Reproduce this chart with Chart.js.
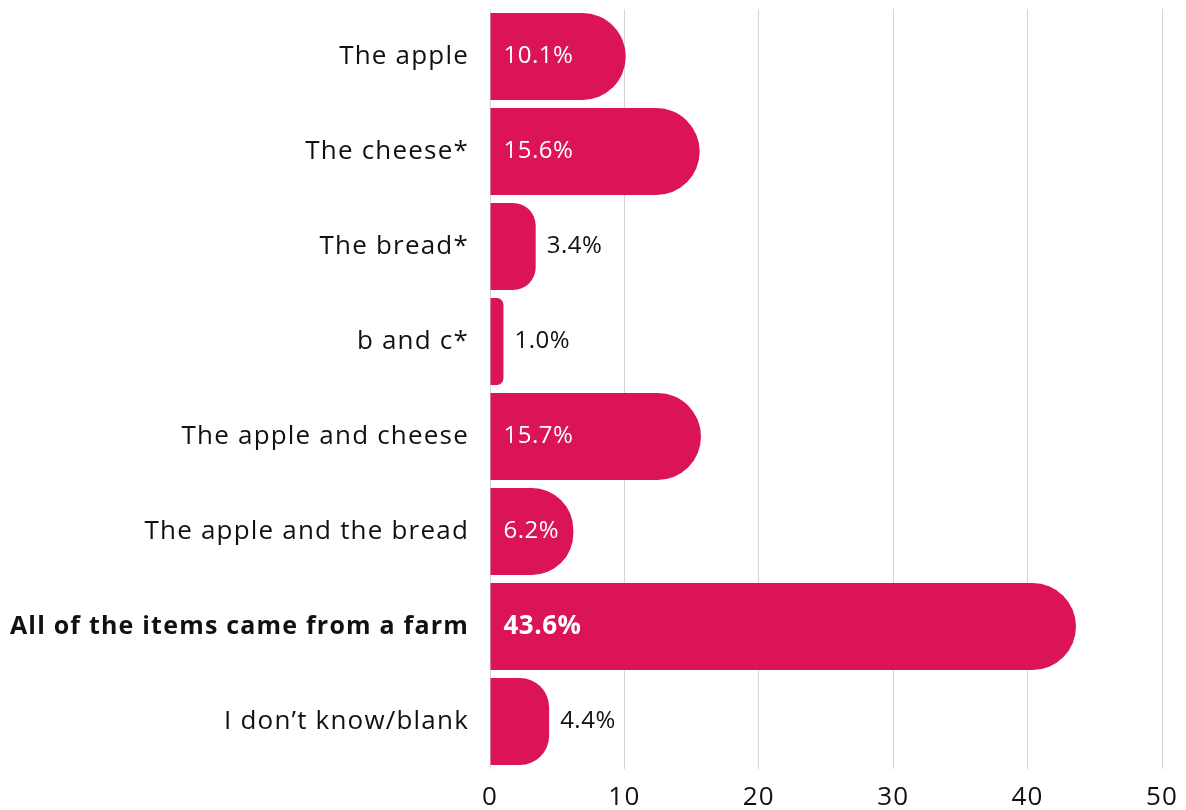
<!DOCTYPE html>
<html lang="en">
<head>
    <title>Which items came from a farm?</title>
    <script src="https://cdn.jsdelivr.net/npm/chart.js"></script>
    <style>
        html, body { margin: 0; padding: 0; background: #fff; overflow: hidden; }
        #chart-container { width: 1186px; height: 810px; }
    </style>
</head>
<body>
    <div id="chart-container">
        <canvas id="chart1"></canvas>
    </div>

    <script>
        // Veriler
        const categories = [
            'The apple',
            'The cheese*',
            'The bread*',
            'b and c*',
            'The apple and cheese',
            'The apple and the bread',
            'All of the items came from a farm',
            'I don\u2019t know/blank'
        ];
        const percentages = [10.1, 15.6, 3.4, 1.0, 15.7, 6.2, 43.6, 4.4];
        const xTicks = [0, 10, 20, 30, 40, 50];
        const highlightIndex = 6;

        const FONT = "'Open Sans', sans-serif";
        const BAR_COLOR = '#DB145A';
        const SPACING = '1.2px';

        // Poppins benzeri genis yazi icin harf araligi
        const letterSpacing = {
            id: 'letterSpacing',
            beforeDraw(chart) {
                chart.ctx.letterSpacing = SPACING;
            }
        };

        // Bar uzerine yuzde etiketleri
        const valueLabels = {
            id: 'valueLabels',
            afterDatasetsDraw(chart) {
                const ctx = chart.ctx;
                const meta = chart.getDatasetMeta(0);
                ctx.save();
                ctx.letterSpacing = '0.5px';
                ctx.textBaseline = 'middle';
                ctx.textAlign = 'left';
                meta.data.forEach((bar, i) => {
                    const v = percentages[i];
                    const bold = i === highlightIndex;
                    ctx.font = bold ? '700 26px ' + FONT : '400 24px ' + FONT;
                    const text = v.toFixed(1) + '%';
                    if (v >= 6) {
                        ctx.fillStyle = '#ffffff';
                        ctx.fillText(text, bar.base + 13, bar.y);
                    } else {
                        ctx.fillStyle = '#111111';
                        ctx.fillText(text, bar.x + 11, bar.y);
                    }
                });
                ctx.restore();
            }
        };

        const chart1 = new Chart(document.getElementById('chart1').getContext('2d'), {
            type: 'bar',
            data: {
                labels: categories,
                datasets: [{
                    data: percentages,
                    backgroundColor: BAR_COLOR,
                    borderWidth: 0,
                    borderRadius: 60,
                    borderSkipped: 'start',
                    barPercentage: 87 / 95,
                    categoryPercentage: 1
                }]
            },
            options: {
                indexAxis: 'y',
                responsive: true,
                maintainAspectRatio: false,
                animation: false,
                layout: {
                    padding: { top: 9, right: 24, bottom: 0, left: 0 }
                },
                plugins: {
                    legend: { display: false },
                    tooltip: { enabled: false }
                },
                scales: {
                    x: {
                        min: 0,
                        max: 50,
                        afterBuildTicks: (scale) => {
                            scale.ticks = xTicks.map(v => ({ value: v }));
                        },
                        afterFit: (scale) => {
                            scale.height = 41;
                            scale.paddingLeft = 0;
                            scale.paddingRight = 0;
                        },
                        grid: {
                            color: '#d4d4d4',
                            lineWidth: 1,
                            drawTicks: false
                        },
                        border: { display: false },
                        ticks: {
                            color: '#111111',
                            padding: 13,
                            font: { family: FONT, size: 26 }
                        }
                    },
                    y: {
                        afterFit: (scale) => {
                            scale.width = 490;
                            scale.paddingTop = 0;
                            scale.paddingBottom = 0;
                        },
                        grid: { display: false, drawTicks: false },
                        border: { display: false },
                        ticks: {
                            color: '#111111',
                            padding: 21,
                            font: (c) => ({
                                family: FONT,
                                size: c.index === highlightIndex ? 25 : 26,
                                weight: c.index === highlightIndex ? 'bold' : 'normal'
                            })
                        }
                    }
                }
            },
            plugins: [letterSpacing, valueLabels]
        });
    </script>
</body>
</html>
